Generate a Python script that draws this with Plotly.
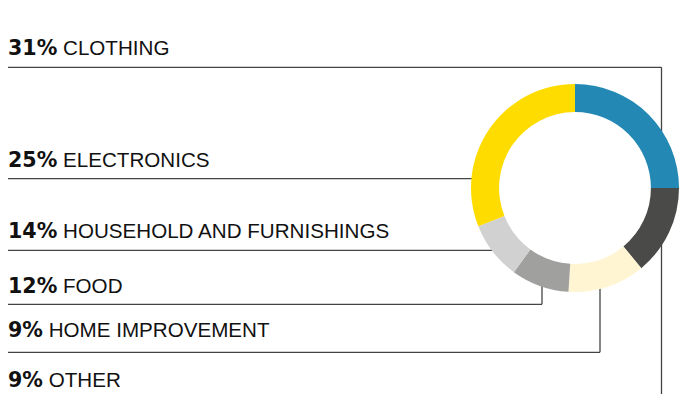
import plotly.graph_objects as go

# Data (clockwise from 12 o'clock)
categories = ["ELECTRONICS", "HOUSEHOLD AND FURNISHINGS", "FOOD",
              "HOME IMPROVEMENT", "OTHER", "CLOTHING"]
values = [25, 14, 12, 9, 9, 31]
colors = ["#2389B4", "#4A4A48", "#FFF5D3", "#A0A09E", "#D1D1D1", "#FFDC00"]

# Label list order (top to bottom)
label_order = ["CLOTHING", "ELECTRONICS", "HOUSEHOLD AND FURNISHINGS",
               "FOOD", "HOME IMPROVEMENT", "OTHER"]
label_pcts = [31, 25, 14, 12, 9, 9]

W, H = 681, 394


def px(x):
    return x / W


def py(y):
    return 1 - y / H


fig = go.Figure()
fig.add_trace(go.Pie(
    values=values, labels=categories, sort=False, direction="clockwise",
    rotation=0, hole=0.73, textinfo="none", hoverinfo="label+percent",
    marker=dict(colors=colors, line=dict(width=0)),
    domain=dict(x=[px(471), px(679)], y=[py(292), py(84)]),
    showlegend=False,
))

# label text cap-middle positions (px)
text_y = [48, 160, 231.5, 285.5, 330, 380]
for pct, lab, ty in zip(label_pcts, label_order, text_y):
    fig.add_annotation(
        x=px(5.5), y=py(ty), xref="paper", yref="paper",
        xanchor="left", yanchor="middle", showarrow=False,
        text=f"<b><span style='font-family:DejaVu Sans'>{pct}%</span></b> {lab}",
        font=dict(family="Liberation Sans, Arial, sans-serif", size=20.6, color="#111111"),
    )

line_style = dict(color="#444444", width=1.3)
segments = [
    # clothing
    ((8, 67.3), (661.5, 67.3)),
    ((661.5, 67.3), (661.5, 394)),
    # electronics
    ((8, 178.7), (485, 178.7)),
    # household
    ((8, 250.3), (500, 250.3)),
    # food
    ((8, 304.3), (542, 304.3)),
    ((542, 304.3), (542, 280)),
    # home improvement
    ((8, 352.3), (600, 352.3)),
    ((600, 352.3), (600, 280)),
]
for (x0, y0), (x1, y1) in segments:
    fig.add_shape(type="line", xref="paper", yref="paper",
                  x0=px(x0), y0=py(y0), x1=px(x1), y1=py(y1),
                  line=line_style, layer="below")

fig.update_layout(
    width=W, height=H, margin=dict(l=0, r=0, t=0, b=0),
    paper_bgcolor="white", plot_bgcolor="white",
    xaxis=dict(visible=False), yaxis=dict(visible=False),
)
fig.write_html("out.html")
